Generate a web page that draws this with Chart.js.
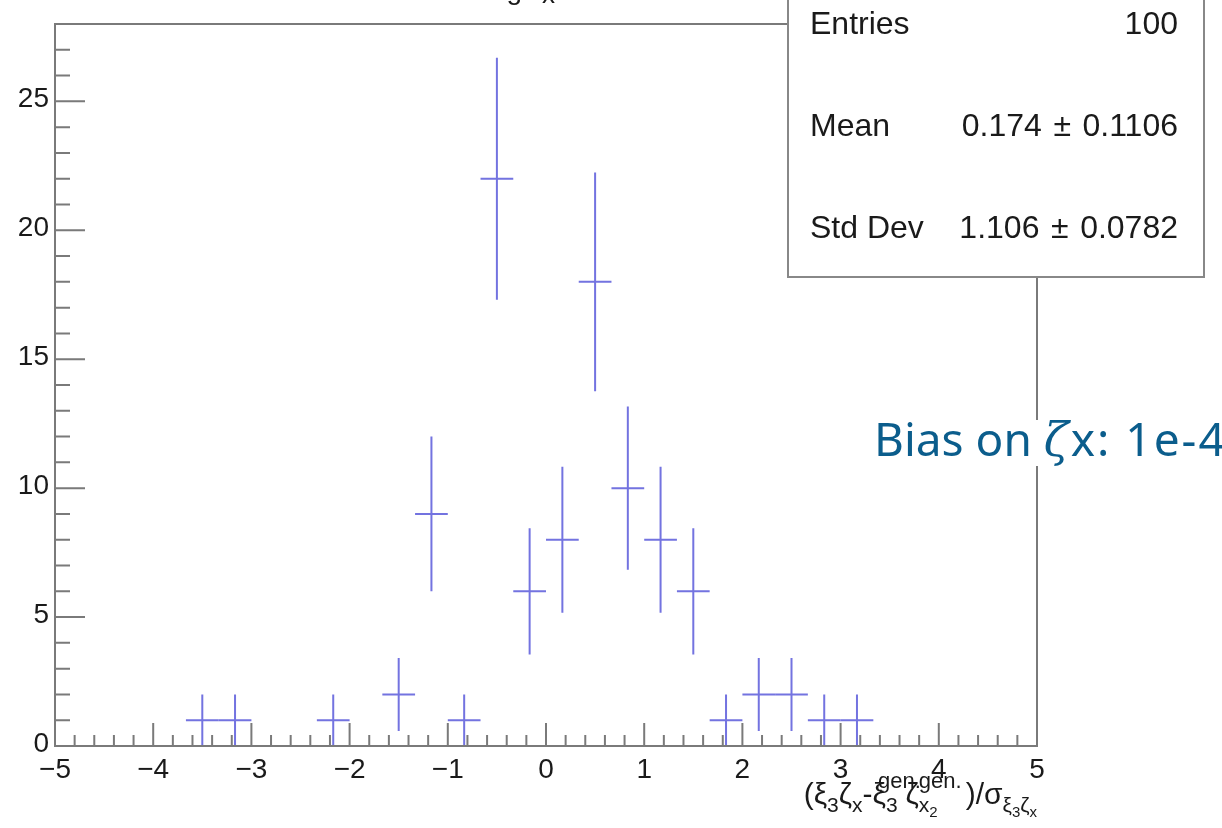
<!DOCTYPE html>
<html>
<head>
<meta charset="utf-8">
<script src="https://cdn.jsdelivr.net/npm/chart.js@4/dist/chart.umd.min.js"></script>
<style>
html, body { margin: 0; padding: 0; background: #fff; }
#wrap { width: 1222px; height: 828px; }
</style>
</head>
<body>
<div id="wrap"><canvas id="myChart" width="1222" height="828"></canvas></div>
<script>
// Histogram contents (bin centres, counts, Poisson errors)
const binCenters = [-3.5, -3.1667, -2.1667, -1.5, -1.1667, -0.8333, -0.5, -0.1667, 0.1667,
                    0.5, 0.8333, 1.1667, 1.5, 1.8333, 2.1667, 2.5, 2.8333, 3.1667];
const counts = [1, 1, 1, 2, 9, 1, 22, 6, 8, 18, 10, 8, 6, 1, 2, 2, 1, 1];
const countErrors = [1, 1, 1, 1.414, 3, 1, 4.690, 2.449, 2.828, 4.243, 3.162, 2.828, 2.449,
                     1, 1.414, 1.414, 1, 1];
const binWidth = 1 / 3;

// Axis ticks
const xTickValues = [-5, -4, -3, -2, -1, 0, 1, 2, 3, 4, 5];
const xTickLabels = ['\u22125', '\u22124', '\u22123', '\u22122', '\u22121', '0', '1', '2', '3', '4', '5'];
const yTickValues = [0, 5, 10, 15, 20, 25];
const yTickLabels = ['0', '5', '10', '15', '20', '25'];

// Stats box rows
const statNames = ['Entries', 'Mean', 'Std Dev'];
const statValues = ['100', '0.174 \u200a\u00b1 \u200a0.1106', '1.106 \u200a\u00b1 \u200a0.0782'];

const AXIS_COLOR = '#7a7a7a';
const MARK_COLOR = 'rgba(75, 75, 215, 0.78)';
const LABEL_FONT = '"Liberation Sans", Arial, sans-serif';

function drawAxisTitle(ctx, right, baseline) {
    const main = 30, sup = 22, sub = 21, sub2 = 15;
    // ROOT-style latex: sup/sub stacked on the same x
    const pieces = [
        { t: '(' }, { t: '\u03be' }, { t: '3', s: sub, dy: 8 },
        { t: '\u03b6' }, { t: 'x', s: sub, dy: 8 }, { t: '-' }, { t: '\u03be' },
        { stack: true, sup: 'gen.', supDx: -8, subs: [['3', sub, 8]], adv: 'sub', pad: 8 },
        { t: '\u03b6' },
        { stack: true, sup: 'gen.', supDx: 0, subs: [['x', sub, 8], ['2', sub2, 13]], adv: 'max', pad: 4 },
        { t: ')/\u03c3' },
        { t: '\u03be', s: sub, dy: 8 }, { t: '3', s: sub2, dy: 13 },
        { t: '\u03b6', s: sub, dy: 8 }, { t: 'x', s: sub2, dy: 13 }
    ];
    const run = (draw, x0) => {
        let x = x0;
        pieces.forEach(p => {
            if (p.stack) {
                ctx.font = sup + 'px ' + LABEL_FONT;
                const supW = ctx.measureText(p.sup).width + p.supDx;
                if (draw) ctx.fillText(p.sup, x + p.supDx, baseline - 16);
                let sx = x;
                p.subs.forEach(([t, s, dy]) => {
                    ctx.font = s + 'px ' + LABEL_FONT;
                    if (draw) ctx.fillText(t, sx, baseline + dy);
                    sx += ctx.measureText(t).width;
                });
                const subW = sx - x;
                x += (p.adv === 'max' ? Math.max(supW, subW) : subW) + p.pad;
            } else {
                ctx.font = (p.s || main) + 'px ' + LABEL_FONT;
                if (draw) ctx.fillText(p.t, x, baseline + (p.dy || 0));
                x += ctx.measureText(p.t).width;
            }
        });
        return x - x0;
    };
    ctx.textAlign = 'left';
    ctx.textBaseline = 'alphabetic';
    const w = run(false, 0);
    run(true, right - w);
}

const rootStyle = {
    id: 'rootStyle',
    afterDatasetsDraw(chart) {
        const ctx = chart.ctx;
        const xs = chart.scales.x, ys = chart.scales.y;
        ctx.save();
        ctx.strokeStyle = MARK_COLOR;
        ctx.lineWidth = 2;
        binCenters.forEach((c, i) => {
            const px = xs.getPixelForValue(c);
            const py = ys.getPixelForValue(counts[i]);
            ctx.beginPath();
            ctx.moveTo(xs.getPixelForValue(c - binWidth / 2), py);
            ctx.lineTo(xs.getPixelForValue(c + binWidth / 2), py);
            ctx.moveTo(px, ys.getPixelForValue(counts[i] - countErrors[i]));
            ctx.lineTo(px, ys.getPixelForValue(counts[i] + countErrors[i]));
            ctx.stroke();
        });
        ctx.restore();
    },
    afterDraw(chart) {
        const ctx = chart.ctx;
        const a = chart.chartArea;
        const xs = chart.scales.x, ys = chart.scales.y;
        ctx.save();

        // frame
        ctx.strokeStyle = AXIS_COLOR;
        ctx.lineWidth = 2;
        ctx.strokeRect(a.left, a.top, a.right - a.left, a.bottom - a.top);

        // x ticks (inward)
        ctx.beginPath();
        for (let v = -5; v <= 5.001; v += 0.2) {
            const px = xs.getPixelForValue(v);
            const major = Math.abs(v - Math.round(v)) < 1e-6;
            ctx.moveTo(px, a.bottom);
            ctx.lineTo(px, a.bottom - (major ? 23 : 11));
        }
        // y ticks
        for (let v = 0; v <= 28; v += 1) {
            const py = ys.getPixelForValue(v);
            ctx.moveTo(a.left, py);
            ctx.lineTo(a.left + (v % 5 === 0 ? 30 : 15), py);
        }
        ctx.stroke();

        // tick labels
        ctx.fillStyle = '#1a1a1a';
        ctx.font = '28px ' + LABEL_FONT;
        ctx.textAlign = 'center';
        ctx.textBaseline = 'top';
        xTickValues.forEach((v, i) => {
            ctx.fillText(xTickLabels[i], xs.getPixelForValue(v), a.bottom + 10);
        });
        ctx.textAlign = 'right';
        ctx.textBaseline = 'middle';
        yTickValues.forEach((v, i) => {
            ctx.fillText(yTickLabels[i], a.left - 6, ys.getPixelForValue(v) - 2);
        });

        // axis title
        drawAxisTitle(ctx, a.right, 804);

        // title (mostly above the canvas)
        ctx.font = '28px ' + LABEL_FONT;
        ctx.textAlign = 'right';
        ctx.textBaseline = 'alphabetic';
        ctx.fillText('Pulling', 522, -1);
        ctx.textAlign = 'left';
        ctx.fillText('\u03c3', 524, -1);
        ctx.font = '26px ' + LABEL_FONT;
        ctx.fillText('x', 542, 3);

        // stats box
        const bx = 788, bw = 416, bTop = -80, bBottom = 277;
        ctx.fillStyle = '#fff';
        ctx.fillRect(bx, bTop, bw, bBottom - bTop);
        ctx.strokeStyle = '#888';
        ctx.lineWidth = 2;
        ctx.strokeRect(bx, bTop, bw, bBottom - bTop);
        ctx.fillStyle = '#1a1a1a';
        ctx.font = '32px ' + LABEL_FONT;
        ctx.textBaseline = 'middle';
        statNames.forEach((name, i) => {
            const ty = 25 + i * 102;
            ctx.textAlign = 'left';
            ctx.fillText(name, bx + 22, ty);
            ctx.textAlign = 'right';
            ctx.fillText(statValues[i], bx + bw - 26, ty);
        });

        // bias note
        const noteX = 874, noteY = 456;
        ctx.fillStyle = '#fff';
        ctx.fillRect(noteX - 4, 420, 1222 - noteX + 4, 46);
        ctx.fillStyle = '#0b5d8c';
        ctx.textAlign = 'left';
        ctx.textBaseline = 'alphabetic';
        ctx.font = '46px "Noto Sans", sans-serif';
        let nx = noteX;
        ctx.fillText('Bias on ', nx, noteY);
        nx += ctx.measureText('Bias on ').width;
        ctx.font = 'italic 46px "DejaVu Serif", serif';
        ctx.fillText('\u03b6', nx, noteY);
        nx += ctx.measureText('\u03b6').width + 2;
        ctx.font = '46px "Noto Sans", sans-serif';
        ctx.letterSpacing = '2px';
        ctx.fillText('x: 1e-4', nx, noteY);

        ctx.restore();
    }
};

new Chart(document.getElementById('myChart'), {
    type: 'scatter',
    data: {
        datasets: [{
            data: binCenters.map((c, i) => ({ x: c, y: counts[i] })),
            pointRadius: 0,
            showLine: false
        }]
    },
    options: {
        responsive: false,
        animation: false,
        layout: { padding: { left: 55, right: 185, top: 24, bottom: 82 } },
        scales: {
            x: { type: 'linear', min: -5, max: 5, display: false },
            y: { type: 'linear', min: 0, max: 28, display: false }
        },
        plugins: { legend: { display: false }, tooltip: { enabled: false } }
    },
    plugins: [rootStyle]
});
</script>
</body>
</html>
